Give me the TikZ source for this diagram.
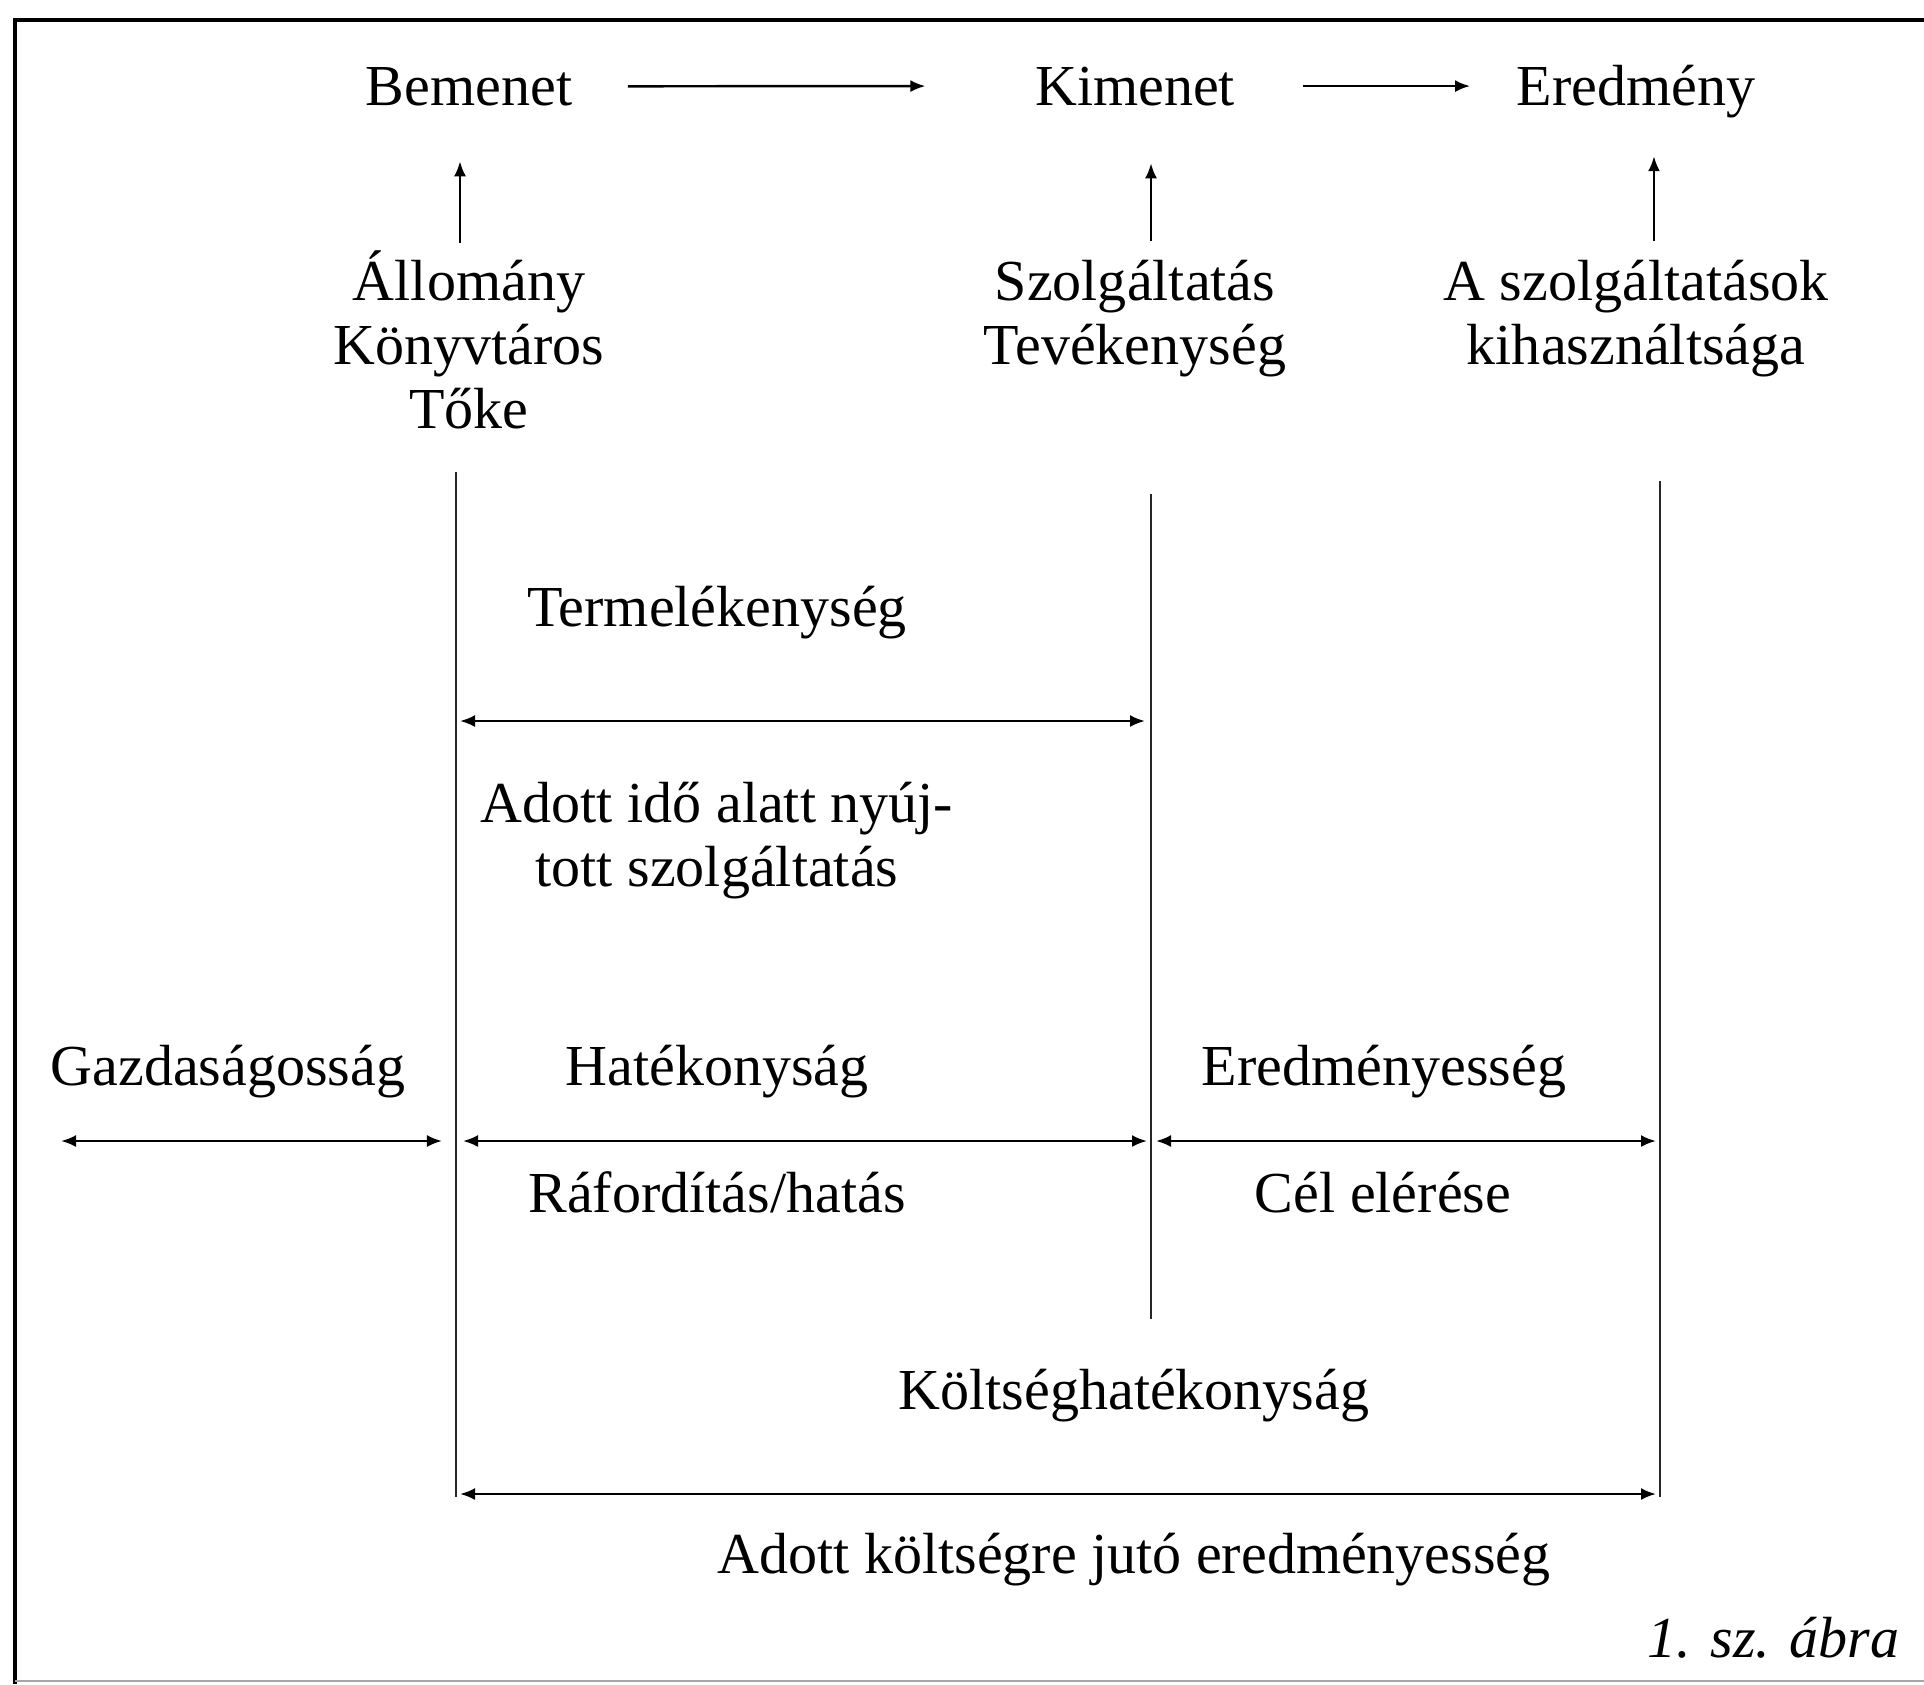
\documentclass[tikz,border=0pt]{standalone}
\usepackage{fontspec}
\setmainfont{Liberation Serif}
\usetikzlibrary{arrows.meta}
\usetikzlibrary{calc}
\tikzset{
    lbl/.style={anchor=base, inner sep=0pt, align=center, font=\fontsize{16.5}{18.2}\selectfont},
    arr/.style={-{Latex[length=1.5mm,width=1.2mm]}, line width=0.7pt},
    darr/.style={{Latex[length=1.5mm,width=1.2mm]}-{Latex[length=1.5mm,width=1.2mm]}, line width=0.7pt},
    sep/.style={line width=0.6pt, black!85}
}

\begin{document}
\begin{tikzpicture}[x=0.01cm, y=-0.01cm]
    \useasboundingbox (0,0) rectangle (1924,1684);
    \draw[line width=0.9pt] (1950,20) -- (15,20) -- (15,1684);
    \draw[black!35, line width=0.4pt] (15,1681) -- (1950,1681);
    % felso sor
    \node[lbl] (Be) at (469,105) {Bemenet};
    \node[lbl] (Ki) at (1135,105) {Kimenet};
    \node[lbl] (Er) at (1636,105) {Eredmény};
    \draw[arr] ($(Be.east)+(55,0)$) -- ($(Ki.west)+(-109,0)$);
    \draw[arr] ($(Ki.east)+(67,0)$) -- ($(Er.west |- Ki.east)+(-46,0)$);
    % tenyezok (base = utolso sor)
    \node[lbl] (All) at (469,428) {Állomány\\Könyvtáros\\Tőke};
    \node[lbl] (Szo) at (1135,364) {Szolgáltatás\\Tevékenység};
    \node[lbl] (Kih) at (1636,364) {A szolgáltatások\\kihasználtsága};
    \draw[arr] ($(All.north)+(-9,-6)$) -- ($(Be.south)+(-9,55)$);
    \draw[arr] ($(Szo.north)+(16,-18)$) -- ($(Ki.south)+(16,57)$);
    \draw[arr] ($(Kih.north)+(18,-18)$) -- ($(Er.south)+(18,38)$);
    % valaszto vonalak
    \draw[sep] (456,472) coordinate (V1) -- (456,1497) coordinate (V1b);
    \draw[sep] (1151,494) coordinate (V2) -- (1151,1319) coordinate (V2b);
    \draw[sep] (1660,481) coordinate (V3) -- (1660,1497) coordinate (V3b);
    % termelekenyseg
    \node[lbl] (Ter) at (717,626) {Termelékenység};
    \draw[darr] (460,721) -- (1145,721);
    \node[lbl] (Ado) at (717,886) {Adott idő alatt nyúj-\\tott szolgáltatás};
    % gazdasagossag, hatekonysag, eredmenyesseg
    \node[lbl] (Gaz) at (228,1085) {Gazdaságosság};
    \node[lbl] (Hat) at (717,1085) {Hatékonyság};
    \node[lbl] (Ere) at (1384,1085) {Eredményesség};
    \draw[darr] (61,1141) -- (442,1141);
    \draw[darr] (463,1141) -- (1147,1141);
    \draw[darr] (1156,1141) -- (1656,1141);
    \node[lbl] (Raf) at (717,1212) {Ráfordítás/hatás};
    \node[lbl] (Cel) at (1383,1212) {Cél elérése};
    % koltseghatekonysag
    \node[lbl] (Kol) at (1134,1409) {Költséghatékonyság};
    \draw[darr] (460,1494) -- (1656,1494);
    \node[lbl] (Akt) at (1134,1573) {Adott költségre jutó eredményesség};
    \node[lbl, anchor=base east, font=\fontsize{16.5}{18.2}\selectfont\itshape] (Abra) at (1900,1657) {1. sz. ábra};
\end{tikzpicture}
\end{document}
